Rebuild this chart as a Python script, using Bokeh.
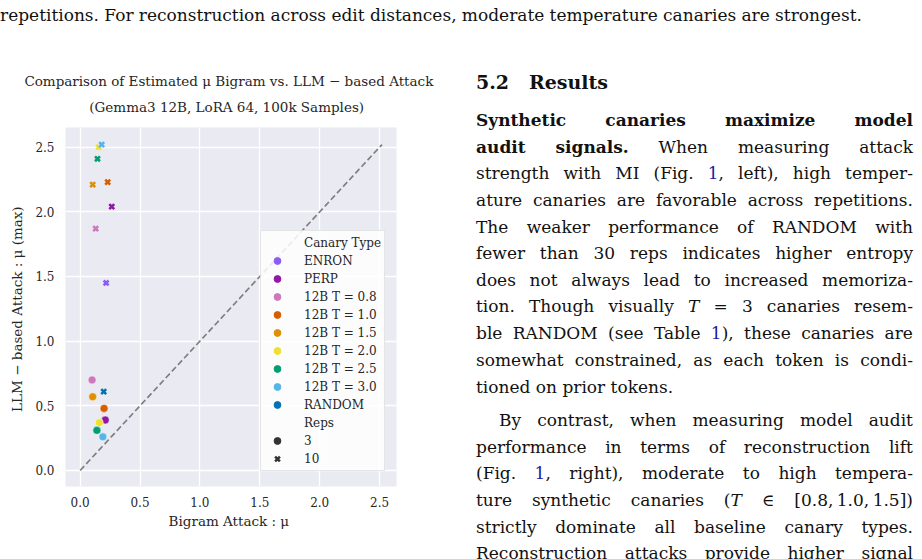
import math
from bokeh.plotting import figure
from bokeh.models import (Div, Legend, LegendItem, ColumnDataSource, Range1d,
                          FixedTicker, NumeralTickFormatter, Title)
from bokeh.layouts import column, row
from bokeh.embed import file_html
from bokeh.resources import INLINE

# ---------------- data ----------------
canary_types = ["ENRON", "PERP", "12B T = 0.8", "12B T = 1.0", "12B T = 1.5",
                "12B T = 2.0", "12B T = 2.5", "12B T = 3.0", "RANDOM"]
type_colors = ["#8b5cf6", "#9117a6", "#cc78bc", "#d55e00", "#de8f05",
               "#ece133", "#029e73", "#56b4e9", "#0173b2"]
nan = float("nan")
# Reps = 3 (circles)
reps3_bigram = [nan, 0.21, 0.10, 0.20, 0.105, 0.16, 0.14, 0.19, nan]
reps3_llm = [nan, 0.39, 0.70, 0.48, 0.57, 0.37, 0.31, 0.26, nan]
# Reps = 10 (crosses)
reps10_bigram = [0.217, 0.264, 0.13, 0.23, 0.105, 0.155, 0.145, 0.18, 0.197]
reps10_llm = [1.45, 2.04, 1.87, 2.23, 2.21, 2.50, 2.41, 2.52, 0.61]
reps_labels = ["3", "10"]
diag = [0.0, 2.52]
x_ticks = [0.0, 0.5, 1.0, 1.5, 2.0, 2.5]
y_ticks = [0.0, 0.5, 1.0, 1.5, 2.0, 2.5]

FONT = "DejaVu Serif"
TXT = "#262626"


def src(xs, ys):
    d = {"x": [], "y": [], "c": []}
    for x, y, c in zip(xs, ys, type_colors):
        if not (math.isnan(x) or math.isnan(y)):
            d["x"].append(x)
            d["y"].append(y)
            d["c"].append(c)
    return ColumnDataSource(d)


p = figure(width=450, height=519, x_range=Range1d(-0.122, 2.641),
           y_range=Range1d(-0.124, 2.652), output_backend="svg",
           toolbar_location=None, min_border_left=65, min_border_right=54,
           min_border_top=87, min_border_bottom=73,
           background_fill_color="#eaeaf2", border_fill_color="white",
           outline_line_color=None)

# outer (first) title line
p.title.text = "Comparison of Estimated \u03bc Bigram vs.  LLM \u2212 based Attack"
p.title.align = "center"
p.title.text_font = FONT
p.title.text_font_style = "normal"
p.title.text_font_size = "13.5px"
p.title.text_color = TXT
p.title.standoff = -8
# inner (second) title line, next to the frame
t2 = Title(text="(Gemma3 12B,  LoRA 64,  100k Samples)",
           align="center", text_font=FONT, text_font_style="normal",
           text_font_size="13.5px", text_color=TXT, standoff=25)
p.add_layout(t2, "above")

for ax, ticks in ((p.xaxis, x_ticks), (p.yaxis, y_ticks)):
    ax.ticker = FixedTicker(ticks=ticks)
    ax.formatter = NumeralTickFormatter(format="0.0")
    ax.axis_line_color = None
    ax.major_tick_line_color = None
    ax.minor_tick_line_color = None
    ax.major_tick_out = 0
    ax.major_tick_in = 0
    ax.minor_tick_out = 0
    ax.minor_tick_in = 0
    ax.major_label_text_font = FONT
    ax.major_label_text_font_size = "12px"
    ax.major_label_text_color = TXT
    ax.axis_label_text_font = FONT
    ax.axis_label_text_font_size = "13.5px"
    ax.axis_label_text_font_style = "normal"
    ax.axis_label_text_color = TXT

p.xaxis.major_label_standoff = 10
p.xaxis.axis_label_standoff = 3
p.yaxis.major_label_standoff = 11
p.yaxis.axis_label_standoff = 7

p.xaxis.axis_label = "Bigram Attack :  \u03bc"
p.yaxis.axis_label = "LLM \u2212 based Attack :  \u03bc (max)"
p.grid.grid_line_color = "white"
p.grid.grid_line_width = 1.3
p.xgrid.ticker = FixedTicker(ticks=x_ticks)
p.ygrid.ticker = FixedTicker(ticks=y_ticks)

p.line(diag, diag, line_color="#808080", line_width=1.7, line_dash="6 3")

p.scatter("x", "y", source=src(reps3_bigram, reps3_llm), marker="circle",
          size=8, fill_color="c", line_color="white", line_width=0.5)
p.scatter("x", "y", source=src(reps10_bigram, reps10_llm), marker="x",
          size=7, line_color="c", line_width=2.6)

# legend (proxy renderers carry no visible data)
items = []
hdr = p.scatter(x=[nan], y=[nan], marker="circle", size=1, fill_alpha=0, line_alpha=0)
items.append(LegendItem(label="Canary Type", renderers=[hdr]))
for name, c in zip(canary_types, type_colors):
    r = p.scatter(x=[nan], y=[nan], marker="circle", size=8, fill_color=c, line_color=c)
    items.append(LegendItem(label=name, renderers=[r]))
hdr2 = p.scatter(x=[nan], y=[nan], marker="circle", size=1, fill_alpha=0, line_alpha=0)
items.append(LegendItem(label="Reps", renderers=[hdr2]))
r3 = p.scatter(x=[nan], y=[nan], marker="circle", size=8, fill_color="#333333",
               line_color="#333333")
items.append(LegendItem(label=reps_labels[0], renderers=[r3]))
r10 = p.scatter(x=[nan], y=[nan], marker="x", size=7, line_color="#333333", line_width=2.6)
items.append(LegendItem(label=reps_labels[1], renderers=[r10]))

leg = Legend(items=items, location=(195, 15), margin=0, padding=3,
             glyph_width=26, glyph_height=17, label_height=17, spacing=1,
             label_standoff=14, label_text_font=FONT, label_text_font_size="12px",
             label_text_color=TXT, background_fill_color="white",
             background_fill_alpha=0.85, border_line_color="#cccccc",
             border_line_width=1)
p.add_layout(leg)

# ---------------- surrounding page text ----------------
BLUE = "#1a1aa6"
ONE = '<span style="color:%s">1</span>' % BLUE
FF = "font-family:'%s',serif;" % FONT


def jline(tokens, top, left, width, justify=True):
    style = ("position:absolute;top:%dpx;left:%dpx;width:%dpx;height:26px;"
             "line-height:26px;white-space:nowrap;%s" % (top, left, width, FF))
    if justify:
        style += "display:flex;justify-content:space-between;"
        inner = "".join("<span>%s</span>" % t for t in tokens)
    else:
        inner = " ".join(tokens)
    return '<div style="%s">%s</div>' % (style, inner)


lines = [
    ["<b>Synthetic</b>", "<b>canaries</b>", "<b>maximize</b>", "<b>model</b>"],
    ["<b>audit</b>", "<b>signals.</b>", "When", "measuring", "attack"],
    ["strength", "with", "MI", "(Fig.", ONE + ",", "left),", "high", "temper-"],
    ["ature", "canaries", "are", "favorable", "across", "repetitions."],
    ["The", "weaker", "performance", "of", "RANDOM", "with"],
    ["fewer", "than", "30", "reps", "indicates", "higher", "entropy"],
    ["does", "not", "always", "lead", "to", "increased", "memoriza-"],
    ["tion.", "Though", "visually", "<i>T</i>", "=", "3", "canaries", "resem-"],
    ["ble", "RANDOM", "(see", "Table", ONE + "),", "these", "canaries", "are"],
    ["somewhat", "constrained,", "as", "each", "token", "is", "condi-"],
    ["tioned", "on", "prior", "tokens."],
    ["By", "contrast,", "when", "measuring", "model", "audit"],
    ["performance", "in", "terms", "of", "reconstruction", "lift"],
    ["(Fig.", ONE + ",", "right),", "moderate", "to", "high", "tempera-"],
    ["ture", "synthetic", "canaries", "(<i>T</i>", "\u2208", "[0.8,\u20091.0,\u20091.5])"],
    ["strictly", "dominate", "all", "baseline", "canary", "types."],
    ["Reconstruction", "attacks", "provide", "higher", "signal"],
]
centers = [120, 147, 173, 200, 227, 253, 280, 306, 333, 360, 387,
           420, 447, 473, 500, 527, 553]

OFF = 40  # row starts at page y = 40
parts = ['<div style="position:relative;width:472px;height:519px;overflow:hidden;'
         '%sfont-size:17px;color:#111;">' % FF]
parts.append('<div style="position:absolute;top:%dpx;left:26px;font-size:19px;%s'
             'font-weight:bold;line-height:26px;white-space:nowrap;">5.2&nbsp;&nbsp;&nbsp;Results</div>'
             % (82 - 13 - OFF, FF))
for i, (toks, c) in enumerate(zip(lines, centers)):
    top = c - 13 - OFF
    if i == 10:
        parts.append(jline(toks, top, 26, 437, justify=False))
    elif i == 11:
        parts.append(jline(toks, top, 49, 414))
    else:
        parts.append(jline(toks, top, 26, 437))
parts.append("</div>")
right_div = Div(text="".join(parts), width=472, height=519, margin=0)

top_tokens = ("repetitions. For reconstruction across edit distances, moderate "
              "temperature canaries are strongest.").split(" ")
top_html = ('<div style="position:relative;width:922px;height:40px;overflow:hidden;'
            '%sfont-size:17px;color:#111;">%s</div>'
            % (FF, jline(top_tokens, 2, 0, 862)))
top_div = Div(text=top_html, width=922, height=40, margin=0)

layout = column(top_div, row(p, right_div))
open("out.html", "w").write(file_html(layout, INLINE))
